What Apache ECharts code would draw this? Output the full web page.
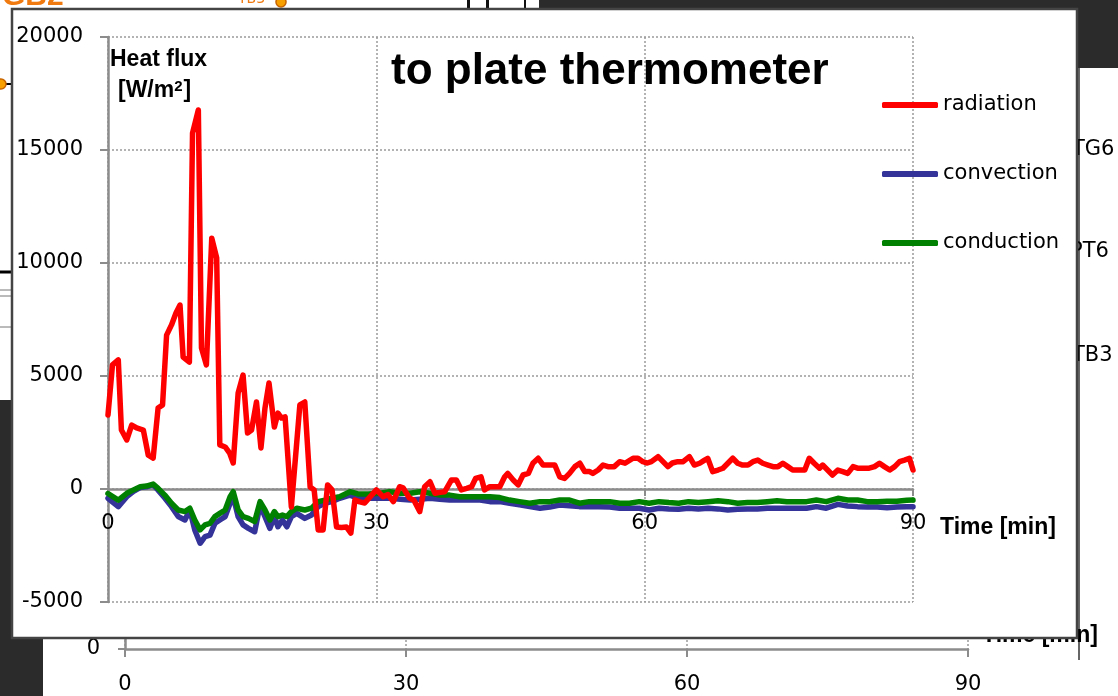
<!DOCTYPE html>
<html>
<head>
<meta charset="utf-8">
<script src="https://cdn.jsdelivr.net/npm/echarts@6/dist/echarts.min.js"></script>
<style>
html,body{margin:0;padding:0;background:#fff;}
#chart{width:1118px;height:696px;}
</style>
</head>
<body>
<div id="chart"></div>
<script>
// ---- data ----
const seriesNames = ['radiation', 'convection', 'conduction'];
const radiationTime = [0,0.5,1.15,1.5,2.1,2.65,3.2,3.95,4.5,5.05,
 5.6,6.1,6.55,7.1,7.6,8.05,8.4,9.1,9.45,10.1,
 10.45,11.0,11.6,12.15,12.5,13.1,13.6,14.0,14.55,15.1,
 15.6,16.05,16.6,17.1,17.55,18.0,18.6,19.0,19.4,19.8,
 20.5,21.45,22.0,22.6,23.05,23.5,24.05,24.55,25.05,25.55,
 26.1,26.65,27.15,27.6,28.15,28.7,29.3,30.0,30.75,31.3,
 31.9,32.6,33.0,33.7,34.2,34.85,35.4,36.0,36.55,37.1,
 37.65,38.4,38.95,39.5,40.1,40.65,41.1,41.7,42.1,42.7,
 43.3,43.8,44.35,44.7,45.3,45.85,46.4,47.0,47.5,48.1,
 48.65,49.4,49.95,50.5,51.05,51.6,52.2,52.75,53.3,53.85,
 54.2,54.8,55.35,55.9,56.6,57.2,57.8,58.7,59.25,59.8,
 60.3,60.75,61.5,62.05,62.6,63.1,63.7,64.3,65.0,65.55,
 66.15,66.7,67.05,67.6,68.2,68.75,69.3,69.85,70.4,70.95,
 71.55,72.1,72.65,73.2,73.8,74.35,74.9,75.45,76.0,76.55,
 77.1,77.9,78.4,78.95,79.55,79.9,80.45,81.0,81.6,82.15,
 82.7,83.3,83.8,84.5,85.1,85.7,86.25,86.8,87.4,87.95,
 88.5,89.05,89.6,90.0];
const radiationFlux = [3270,5490,5710,2610,2170,2830,2700,2610,1500,1370,
 3580,3720,6810,7260,7790,8140,5840,5620,15750,16770,
 6240,5490,11100,10220,1950,1860,1590,1150,4250,5040,
 2480,2610,3850,1810,3580,4690,2740,3360,3140,3190,
 -800,3720,3850,90,-40,-1810,-1810,180,-40,-1680,
 -1700,-1680,-1950,-490,-570,-620,-350,-40,-340,-250,
 -560,100,50,-400,-500,-1000,100,320,-190,-150,
 -120,400,400,-40,30,100,470,540,-40,100,
 100,100,540,690,400,180,620,690,1140,1360,
 1060,1060,1060,540,470,690,990,1140,770,770,
 690,840,1060,990,990,1210,1140,1360,1360,1210,
 1150,1210,1430,1210,990,1150,1210,1210,1430,1060,
 1140,1280,1360,770,840,920,1140,1360,1140,1060,
 1060,1210,1280,1140,1060,990,990,1140,990,840,
 840,840,1360,1140,920,1060,840,620,840,770,
 690,990,920,920,920,990,1140,990,840,990,
 1210,1280,1360,840];
const sensorTime = [0,1.15,2.1,2.85,3.6,4.3,5.05,5.6,6.35,7.1,
 7.85,8.6,9.15,9.7,10.3,10.85,11.4,11.95,12.5,13.1,
 13.65,14.0,14.55,15.1,15.7,16.4,17.0,17.55,18.1,18.6,
 19.0,19.5,20.0,20.5,21.1,22.0,22.75,23.5,24.25,25.0,
 25.9,27.05,27.95,29.1,30.4,31.5,32.7,33.8,34.85,36.0,
 37.1,38.2,39.3,40.5,41.6,42.7,43.8,44.9,46.0,47.15,
 48.3,49.4,50.5,51.6,52.7,53.8,54.9,56.1,57.2,58.3,
 59.4,60.5,61.6,62.7,63.8,64.9,66.0,67.1,68.2,69.3,
 70.4,71.5,72.6,73.7,74.8,75.9,77.0,78.1,79.2,80.3,
 81.6,82.7,83.8,84.9,86.0,87.1,88.2,89.3,90.0];
const convectionFlux = [-410,-780,-340,-100,60,100,180,-50,-400,-780,
 -1220,-1370,-930,-1810,-2400,-2110,-2040,-1520,-1370,-1220,
 -630,-340,-1220,-1590,-1740,-1890,-710,-1220,-1740,-1220,
 -1670,-1370,-1670,-1220,-1080,-1300,-1150,-780,-630,-560,
 -410,-270,-410,-410,-410,-410,-450,-490,-450,-410,
 -450,-490,-490,-490,-490,-560,-560,-630,-700,-780,
 -850,-800,-710,-740,-780,-780,-780,-800,-850,-850,
 -850,-930,-850,-880,-900,-850,-880,-850,-880,-930,
 -900,-880,-880,-850,-850,-850,-850,-850,-780,-850,
 -680,-750,-780,-800,-800,-830,-800,-780,-780];
const conductionFlux = [-200,-490,-190,-40,100,130,220,30,-270,-630,
 -930,-1000,-850,-1370,-1810,-1590,-1520,-1220,-1080,-930,
 -340,-120,-930,-1220,-1300,-1440,-560,-930,-1370,-1000,
 -1220,-1150,-1220,-1000,-850,-930,-850,-560,-490,-410,
 -340,-120,-220,-220,-190,-120,-190,-190,-120,-190,
 -270,-270,-340,-340,-340,-340,-380,-490,-560,-630,
 -560,-560,-490,-490,-630,-560,-560,-560,-630,-630,
 -560,-630,-560,-600,-630,-560,-600,-560,-520,-560,
 -630,-600,-600,-560,-520,-560,-560,-560,-490,-560,
 -410,-490,-490,-560,-560,-540,-540,-500,-490];
const yTickLabels = ['-5000','0','5000','10000','15000','20000'];
const xTickLabels = ['0','30','60','90'];

// ---- build ----
const pairs = (xs, ys) => xs.map((x, i) => [x, ys[i]]);
const yMin = Number(yTickLabels[0]), yMax = Number(yTickLabels[yTickLabels.length - 1]);
const yStep = Number(yTickLabels[1]) - yMin;
const xMin = Number(xTickLabels[0]), xMax = Number(xTickLabels[xTickLabels.length - 1]);
const xStep = Number(xTickLabels[1]) - xMin;

const W = 1118, H = 696;
const mainGrid = {left: 108, right: 205, top: 37, bottom: 94};
const gridH = H - mainGrid.top - mainGrid.bottom;
// x axis crosses the value axis at 0
const zeroOffset = -Math.round((0 - yMin) / (yMax - yMin) * gridH);

const tickFont = 'DejaVu Sans';
const boldFont = 'Liberation Sans';
const axisGray = '#8c8c8c';
const gridLine = {show: true, lineStyle: {color: '#9a9a9a', type: [2, 2], width: 1.5}};

const chart = echarts.init(document.getElementById('chart'), null, {renderer: 'canvas'});
const lineBase = {type: 'line', showSymbol: false, symbol: 'none', xAxisIndex: 0, yAxisIndex: 0,
  lineStyle: {width: 5.5, cap: 'round', join: 'round'}, emphasis: {disabled: true}, animation: false};

chart.setOption({
  animation: false,
  backgroundColor: '#ffffff',
  title: [
    {text: 'to plate thermometer', left: 386, top: 45, z: 10,
     textStyle: {fontFamily: boldFont, fontWeight: 'bold', fontSize: 44, color: '#000'}},
    {text: 'Heat flux', left: 105, top: 43, z: 10,
     textStyle: {fontFamily: boldFont, fontWeight: 'bold', fontSize: 23, color: '#000'}},
    {text: '[W/m{s|2}]', left: 113, top: 74, z: 10,
     textStyle: {fontFamily: boldFont, fontWeight: 'bold', fontSize: 23, color: '#000',
       rich: {s: {fontFamily: boldFont, fontWeight: 'bold', fontSize: 15, color: '#000', verticalAlign: 'top', padding: [0, 1, 9, 0]}}}}
  ],
  legend: {
    data: seriesNames, orient: 'vertical', left: 877, top: 88, z: 10,
    icon: 'roundRect', itemWidth: 56, itemHeight: 6, itemGap: 45,
    textStyle: {fontFamily: tickFont, fontSize: 21, color: '#000', lineHeight: 24},
    selectedMode: false
  },
  grid: [
    mainGrid,
    {left: 125, right: 150, top: 400, bottom: 47}
  ],
  xAxis: [
    {type: 'value', gridIndex: 0, min: xMin, max: xMax, interval: xStep, z: 4,
     offset: zeroOffset,
     name: 'Time [min]', nameLocation: 'end', nameGap: 27,
     nameTextStyle: {fontFamily: boldFont, fontWeight: 'bold', fontSize: 23, color: '#000', verticalAlign: 'top', padding: [27, 0, 0, 0]},
     axisLine: {onZero: false, lineStyle: {color: axisGray, width: 2.5}},
     axisTick: {show: true, length: 7, lineStyle: {color: axisGray, width: 2}},
     axisLabel: {fontFamily: tickFont, fontSize: 21, color: '#000', margin: 24},
     splitLine: gridLine},
    {type: 'value', gridIndex: 1, min: xMin, max: xMax, interval: xStep, z: 0,
     axisLine: {onZero: false, lineStyle: {color: axisGray, width: 2.5}},
     axisTick: {show: true, inside: false, length: 8, lineStyle: {color: axisGray, width: 2}},
     axisLabel: {fontFamily: tickFont, fontSize: 21, color: '#000', margin: 25},
     splitLine: gridLine}
  ],
  yAxis: [
    {type: 'value', gridIndex: 0, min: yMin, max: yMax, interval: yStep, z: 4,
     axisLine: {show: true, onZero: false, lineStyle: {color: axisGray, width: 2.5}},
     axisTick: {show: true, length: 8, lineStyle: {color: axisGray, width: 2}},
     axisLabel: {fontFamily: tickFont, fontSize: 21, color: '#000', margin: 25,
                 formatter: v => String(v)},
     splitLine: gridLine},
    {type: 'value', gridIndex: 1, min: 0, max: 1, interval: 1, z: 0,
     axisLine: {show: true, onZero: false, lineStyle: {color: axisGray, width: 2.5}},
     axisTick: {show: true, length: 7, lineStyle: {color: axisGray, width: 2}},
     axisLabel: {fontFamily: tickFont, fontSize: 21, color: '#000', margin: 25,
                 formatter: v => (v === 0 ? '0' : '')},
     splitLine: {show: false}}
  ],
  series: [
    Object.assign({}, lineBase, {name: 'convection', z: 5, color: '#333399', data: pairs(sensorTime, convectionFlux)}),
    Object.assign({}, lineBase, {name: 'conduction', z: 6, color: '#008000', data: pairs(sensorTime, conductionFlux)}),
    Object.assign({}, lineBase, {name: 'radiation', z: 7, color: '#ff0000', data: pairs(radiationTime, radiationFlux)})
  ],
  graphic: {elements: [
    // fragments of the windows behind the chart
    {type: 'rect', z: -1, shape: {x: 0, y: 400, width: 14, height: 296}, style: {fill: '#2b2b2b'}},
    {type: 'rect', z: -1, shape: {x: 0, y: 636, width: 43, height: 60}, style: {fill: '#2b2b2b'}},
    {type: 'rect', z: -1, shape: {x: 539, y: 0, width: 579, height: 9}, style: {fill: '#2b2b2b'}},
    {type: 'rect', z: -1, shape: {x: 1077, y: 0, width: 41, height: 68}, style: {fill: '#2b2b2b'}},
    {type: 'rect', z: -1, shape: {x: 467, y: 0, width: 3, height: 9}, style: {fill: '#111'}},
    {type: 'rect', z: -1, shape: {x: 486, y: 0, width: 3, height: 9}, style: {fill: '#111'}},
    {type: 'rect', z: -1, shape: {x: 524, y: 0, width: 2, height: 9}, style: {fill: '#111'}},
    {type: 'line', z: -1, shape: {x1: 1079, y1: 68, x2: 1079, y2: 660}, style: {stroke: '#666', lineWidth: 2}},
    {type: 'line', z: -1, shape: {x1: 0, y1: 272, x2: 14, y2: 272}, style: {stroke: '#000', lineWidth: 3}},
    {type: 'line', z: -1, shape: {x1: 0, y1: 290, x2: 14, y2: 290}, style: {stroke: '#777', lineWidth: 1}},
    {type: 'line', z: -1, shape: {x1: 0, y1: 296, x2: 14, y2: 296}, style: {stroke: '#777', lineWidth: 1}},
    {type: 'line', z: -1, shape: {x1: 0, y1: 327, x2: 14, y2: 327}, style: {stroke: '#777', lineWidth: 1}},
    {type: 'line', z: -1, shape: {x1: 0, y1: 84, x2: 14, y2: 84}, style: {stroke: '#000', lineWidth: 2}},
    {type: 'circle', z: -1, shape: {cx: 1, cy: 84, r: 5}, style: {fill: '#f7a000', stroke: '#c86400', lineWidth: 1.5}},
    {type: 'text', z: -1, x: 2, y: 12, style: {text: 'GB2', fill: '#f07a10', font: 'bold 30px "Liberation Sans"', textVerticalAlign: 'bottom'}},
    {type: 'text', z: -1, x: 238, y: 6, style: {text: 'TB3', fill: '#f07a10', font: '14px "DejaVu Sans"', textVerticalAlign: 'bottom'}},
    {type: 'circle', z: -1, shape: {cx: 281, cy: 2, r: 5}, style: {fill: '#f7a000', stroke: '#c86400', lineWidth: 1.5}},
    {type: 'text', z: -1, x: 1072, y: 150, style: {text: 'TG6', fill: '#000', font: '21px "DejaVu Sans"', textVerticalAlign: 'middle'}},
    {type: 'text', z: -1, x: 1070, y: 252, style: {text: 'PT6', fill: '#000', font: '21px "DejaVu Sans"', textVerticalAlign: 'middle'}},
    {type: 'text', z: -1, x: 1072, y: 356, style: {text: 'TB3', fill: '#000', font: '21px "DejaVu Sans"', textVerticalAlign: 'middle'}},
    {type: 'text', z: -1, x: 982, y: 636, style: {text: 'Time [min]', fill: '#000', font: 'bold 23px "Liberation Sans"', textVerticalAlign: 'middle'}},
    // the chart panel in front
    {type: 'rect', z: 1, shape: {x: 12, y: 9, width: 1065, height: 629}, style: {fill: '#ffffff', stroke: '#444', lineWidth: 2.5}}
  ]}
});
</script>
</body>
</html>
